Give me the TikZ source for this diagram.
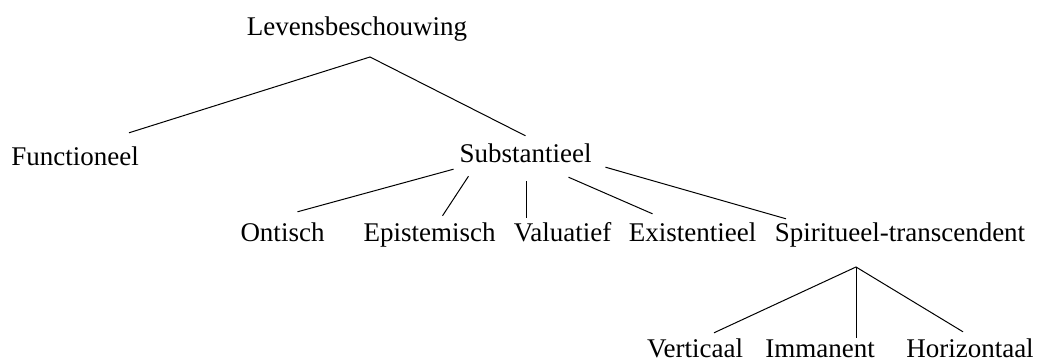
\documentclass[tikz,border=0pt]{standalone}
\usepackage{fontspec}
\setmainfont{Liberation Serif}

\begin{document}
\begin{tikzpicture}[x=1pt,y=-1pt,
    lbl/.style={anchor=base,inner sep=0pt,text height=18pt,text depth=6pt,
                font=\fontsize{27}{30}\selectfont},
    tak/.style={line width=1pt}]

    \useasboundingbox (0,0) rectangle (1037,363);

    \node[lbl] (lev) at (357,36)    {Levensbeschouwing};
    \node[lbl] (fun) at (75,166)    {Functioneel};
    \node[lbl] (sub) at (525.5,163) {Substantieel};

    \foreach \name/\x/\txt in {ont/282.5/Ontisch, epi/429.5/Epistemisch,
                               val/562.5/Valuatief, exi/692.5/Existentieel,
                               spi/900/Spiritueel-transcendent}
        \node[lbl] (\name) at (\x,242) {\txt};

    \foreach \name/\x/\txt in {ver/695/Verticaal, imm/820/Immanent, hor/970/Horizontaal}
        \node[lbl] (\name) at (\x,358) {\txt};

    \coordinate (levfork) at (370,57);
    \coordinate (spifork) at (856,267);

    % eerste splitsing
    \draw[tak] ([shift={(54,-15)}]fun.north) -- (levfork) -- ([shift={(0,-9)}]sub.north);

	% substantieel
    \draw[tak] ([shift={(-72,0)}]sub.south) -- ([shift={(15,-12)}]ont.north);
    \draw[tak] ([shift={(-57,7)}]sub.south) -- ([shift={(13,-8)}]epi.north);
    \draw[tak] ([shift={(1,12)}]sub.south)  -- ([shift={(-36,-6)}]val.north);
    \draw[tak] ([shift={(43,8)}]sub.south)  -- ([shift={(-40,-10)}]exi.north);
    \draw[tak] ([shift={(80,-2)}]sub.south) -- ([shift={(-114,-5)}]spi.north);

	% spiritueel-transcendent
    \draw[tak] ([shift={(19,-7)}]ver.north) -- (spifork) -- ([shift={(-7,-8)}]hor.north);
    \draw[tak] (spifork) -- ([shift={(36,-2)}]imm.north);
\end{tikzpicture}
\end{document}
